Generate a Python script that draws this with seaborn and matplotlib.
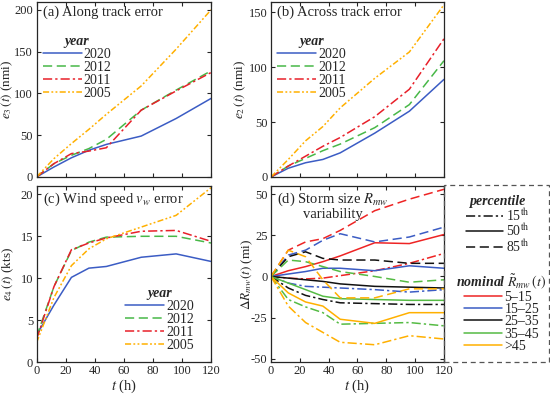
"""Forecast error panels (track, intensity, size) redrawn with seaborn."""

import matplotlib
matplotlib.use("Agg")
import matplotlib.pyplot as plt
from matplotlib.lines import Line2D
from matplotlib.patches import Rectangle
import pandas as pd
import seaborn as sns

# ---- data ----
lead_hours = [0, 12, 24, 36, 48, 72, 96, 120]
years = ["2020", "2012", "2011", "2005"]

along_2020 = [0, 12, 23, 32, 39, 49, 70, 94]
along_2012 = [0, 16, 26, 34, 45, 80, 104, 127]
along_2011 = [0, 16, 28, 31, 35, 80, 103, 125]
along_2005 = [0, 22, 40, 57, 75, 109, 153, 200]

across_2020 = [0, 8, 13, 16, 22, 40, 60, 89]
across_2012 = [0, 10, 17, 24, 30, 45, 66, 106]
across_2011 = [0, 10, 19, 28, 36, 55, 80, 126]
across_2005 = [0, 16, 33, 46, 63, 90, 114, 157]

wind_2020 = [3.2, 6.8, 10.1, 11.2, 11.4, 12.5, 12.9, 12.0]
wind_2012 = [3.0, 9.0, 13.3, 14.3, 14.9, 15.0, 15.0, 14.2]
wind_2011 = [2.7, 9.0, 13.4, 14.2, 14.8, 15.6, 15.7, 14.4]
wind_2005 = [2.3, 7.7, 11.5, 13.5, 14.7, 16.1, 17.5, 20.8]

size_classes = ["5–15", "15–25", "25–35", "35–45", ">45"]
percentiles = ["15th", "50th", "85th"]

r5_15_p15 = [0, -1, -1.5, -1, 0.5, 3.5, 8, 14]
r5_15_p50 = [0, 3.5, 6, 9, 12.5, 20.5, 20, 25.5]
r5_15_p85 = [0, 16, 21, 23, 28, 40, 47, 53]
r15_25_p15 = [0, -4, -6, -6.5, -7, -8, -9.5, -8]
r15_25_p50 = [0, 1.5, 3, 5, 5, 3.5, 6.5, 5]
r15_25_p85 = [0, 13, 16, 22, 26, 21, 24, 30]
r25_35_p15 = [0, -7, -11.5, -14, -16, -16.5, -17, -17]
r25_35_p50 = [0, -1, -2, -3, -4.5, -6, -6.5, -7]
r25_35_p85 = [0, 12, 15, 11, 10, 10, 8, 8]
r35_45_p15 = [0, -14, -18.5, -22, -29, -28.5, -28, -30]
r35_45_p50 = [0, -4, -8, -12, -13.5, -14, -14.5, -14.5]
r35_45_p85 = [0, 10, 9, 6, 3, 0, -3.5, -2]
r45_p15 = [0, -18, -28, -34, -40, -41.5, -36, -38]
r45_p50 = [0, -10, -15.5, -18, -26, -28.5, -22, -22]
r45_p85 = [0, 16, 12, -2, -13, -13, -7.5, -7.5]

# ---- styles ----
year_colors = {"2020": "#3b5cc4", "2012": "#48b848", "2011": "#e8202a", "2005": "#ffb000"}
year_dashes = {
    "2020": "",
    "2012": (6, 3),
    "2011": (6, 2, 1.5, 2),
    "2005": (4, 1.5, 1.2, 1.5, 1.2, 1.5),
}
size_colors = {
    "5–15": "#ee2424",
    "15–25": "#3b5cc4",
    "25–35": "#111111",
    "35–45": "#55bb44",
    ">45": "#ffb000",
}
pct_dashes = {"15th": (6, 2, 1.5, 2), "50th": "", "85th": (6, 3)}
pct_labels = {"15th": "15$^{\\rm th}$", "50th": "50$^{\\rm th}$", "85th": "85$^{\\rm th}$"}

sns.set_style("ticks")
plt.rcParams["font.family"] = ["Liberation Serif", "DejaVu Serif"]
plt.rcParams["mathtext.fontset"] = "stix"
plt.rcParams["axes.unicode_minus"] = False
plt.rcParams["axes.linewidth"] = 0.9

TITLE_SIZE = 10.5
LEGEND_SIZE = 10


def year_frame(series):
    rows = []
    for year, values in zip(years, series):
        rows += [{"t": h, "value": v, "year": year} for h, v in zip(lead_hours, values)]
    return pd.DataFrame(rows)


def size_frame():
    table = {
        "5–15": [r5_15_p15, r5_15_p50, r5_15_p85],
        "15–25": [r15_25_p15, r15_25_p50, r15_25_p85],
        "25–35": [r25_35_p15, r25_35_p50, r25_35_p85],
        "35–45": [r35_45_p15, r35_45_p50, r35_45_p85],
        ">45": [r45_p15, r45_p50, r45_p85],
    }
    rows = []
    for size, curves in table.items():
        for pct, values in zip(percentiles, curves):
            rows += [{"t": h, "value": v, "size": size, "pct": pct} for h, v in zip(lead_hours, values)]
    return pd.DataFrame(rows)


def line_handle(color, dashes):
    if dashes == "":
        return Line2D([], [], color=color, lw=1.1, linestyle="-")
    return Line2D([], [], color=color, lw=1.1, linestyle=(0, dashes))


def style_axis(ax, ylim, yticks, ylabel, label_x, bottom_row):
    ax.set_xlim(0, 120)
    ax.set_ylim(*ylim)
    ax.set_xticks(range(0, 121, 20))
    ax.set_yticks(yticks)
    ax.tick_params(direction="in", top=True, right=True, length=3, width=0.8, labelsize=9, pad=2.5)
    ax.set_ylabel(ylabel, fontsize=9.5)
    ax.yaxis.set_label_coords(label_x, 0.5)
    if bottom_row:
        ax.set_xlabel("$t$ (h)", fontsize=10.5, labelpad=0)
    else:
        ax.set_xticklabels([])
        ax.set_xlabel("")


def bold_italic_title(leg):
    leg.get_title().set_fontweight("bold")
    leg.get_title().set_fontstyle("italic")


def year_legend(ax, loc, anchor):
    handles = [line_handle(year_colors[y], year_dashes[y]) for y in years]
    leg = ax.legend(handles, years, title="year", loc=loc, bbox_to_anchor=anchor,
                    frameon=False, fontsize=LEGEND_SIZE, title_fontsize=LEGEND_SIZE,
                    handlelength=2.8, handletextpad=0.15, labelspacing=0.0, borderpad=0.2)
    bold_italic_title(leg)


def draw_year_panel(ax, series):
    sns.lineplot(data=year_frame(series), x="t", y="value", hue="year", style="year",
                 hue_order=years, style_order=years, palette=year_colors, dashes=year_dashes,
                 linewidth=1.1, errorbar=None, legend=False, ax=ax)


fig = plt.figure(figsize=(5.5, 3.95), dpi=100)
ax_a = fig.add_axes([0.0664, 0.5519, 0.3173, 0.4443])
ax_b = fig.add_axes([0.4927, 0.5519, 0.3145, 0.4443])
ax_c = fig.add_axes([0.0664, 0.0835, 0.3173, 0.4456])
ax_d = fig.add_axes([0.4927, 0.0835, 0.3145, 0.4456])

# (a) along track
draw_year_panel(ax_a, [along_2020, along_2012, along_2011, along_2005])
style_axis(ax_a, (0, 210), [0, 50, 100, 150, 200], "$e_3\\,(t)$ (nmi)", -0.125, False)
ax_a.text(0.035, 0.975, "(a) Along track error", transform=ax_a.transAxes, va="top",
          fontsize=TITLE_SIZE)
year_legend(ax_a, "upper left", (-0.02, 0.863))

# (b) across track
draw_year_panel(ax_b, [across_2020, across_2012, across_2011, across_2005])
style_axis(ax_b, (0, 160), [0, 50, 100, 150], "$e_2\\,(t)$ (nmi)", -0.135, False)
ax_b.text(0.035, 0.975, "(b) Across track error", transform=ax_b.transAxes, va="top",
          fontsize=TITLE_SIZE)
year_legend(ax_b, "upper left", (-0.02, 0.863))

# (c) wind speed
draw_year_panel(ax_c, [wind_2020, wind_2012, wind_2011, wind_2005])
style_axis(ax_c, (0, 21), [0, 5, 10, 15, 20], "$e_4\\,(t)$ (kts)", -0.115, True)
ax_c.text(0.035, 0.975, "(c) Wind speed $v_w$ error", transform=ax_c.transAxes, va="top",
          fontsize=TITLE_SIZE)
year_legend(ax_c, "lower right", (0.96, 0.0))

# (d) storm size variability
sns.lineplot(data=size_frame(), x="t", y="value", hue="size", style="pct",
             hue_order=size_classes, style_order=percentiles, palette=size_colors,
             dashes=pct_dashes, linewidth=1.1, errorbar=None, legend=False, ax=ax_d)
style_axis(ax_d, (-52, 55), [-50, -25, 0, 25, 50], "$\\Delta R_{mw}(t)$ (mi)", -0.095, True)
ax_d.text(0.035, 0.975, "(d) Storm size $R_{mw}$\nvariability", transform=ax_d.transAxes,
          va="top", ha="left", multialignment="center", fontsize=TITLE_SIZE, linespacing=1.0)

# legends outside panel (d), inside a dashed box
box = Rectangle((0.8072, 0.0835), 0.1908, 0.4485, transform=fig.transFigure, fill=False,
                edgecolor="#555555", lw=0.9, linestyle=(0, (4, 3)), clip_on=False)
fig.add_artist(box)

pct_handles = [line_handle("#111111", pct_dashes[p]) for p in percentiles]
leg_pct = fig.legend(pct_handles, [pct_labels[p] for p in percentiles], title="percentile",
                     loc="upper center", bbox_to_anchor=(0.905, 0.53), frameon=False,
                     fontsize=LEGEND_SIZE, title_fontsize=LEGEND_SIZE, handlelength=2.7,
                     handletextpad=0.2, labelspacing=-0.08, borderpad=0.2)
bold_italic_title(leg_pct)

size_handles = [line_handle(size_colors[s], "") for s in size_classes]
leg_size = fig.legend(size_handles, size_classes, title="nominal $\\tilde{R}_{mw}\\,(t)$",
                      loc="upper center", bbox_to_anchor=(0.912, 0.335), frameon=False,
                      fontsize=LEGEND_SIZE, title_fontsize=LEGEND_SIZE, handlelength=2.7,
                      handletextpad=0.2, labelspacing=-0.05, borderpad=0.2)
bold_italic_title(leg_size)

fig.savefig("out.png", dpi=100)
plt.close(fig)
